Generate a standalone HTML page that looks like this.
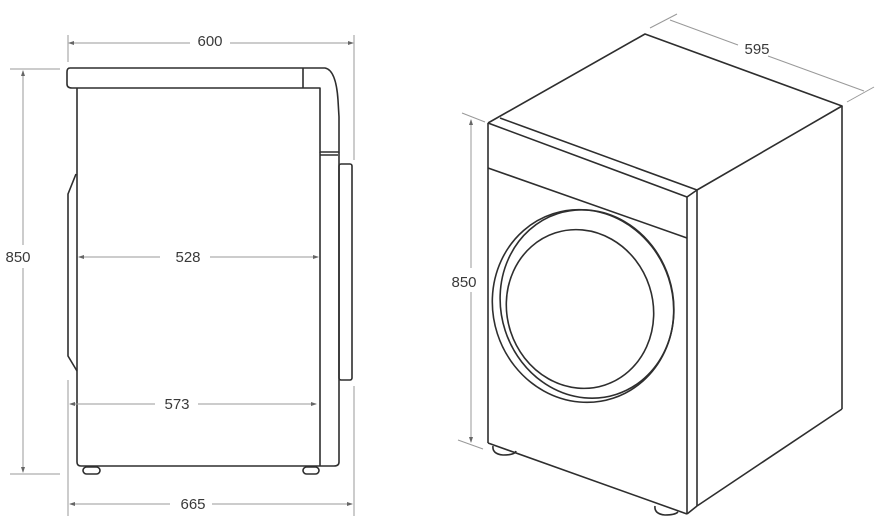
<!DOCTYPE html>
<html><head><style>
html,body{margin:0;padding:0;background:#fff;}
svg{display:block;}
text{font-family:"Liberation Sans",sans-serif;font-size:15px;fill:#3a3a3a;text-anchor:middle;}
.o{fill:none;stroke:#2e2e2e;stroke-width:1.6;stroke-linejoin:round;}
.d{fill:none;stroke:#999;stroke-width:1;}
.a{fill:#666;}
</style></head><body>
<svg width="880" height="524" viewBox="0 0 880 524" xmlns="http://www.w3.org/2000/svg">
<line class="d" x1="68" y1="35" x2="68" y2="62"/>
<line class="d" x1="354" y1="35" x2="354" y2="160"/>
<line class="d" x1="70" y1="43" x2="190" y2="43"/>
<line class="d" x1="230" y1="43" x2="352" y2="43"/>
<path class="a" d="M68,43 l6,-2 v4z M354,43 l-6,-2 v4z"/>
<text x="210" y="46">600</text>
<line class="d" x1="10" y1="69" x2="60" y2="69"/>
<line class="d" x1="10" y1="474" x2="60" y2="474"/>
<line class="d" x1="23" y1="71" x2="23" y2="245"/>
<line class="d" x1="23" y1="268" x2="23" y2="472"/>
<path class="a" d="M23,70 l-2,6 h4z M23,473 l-2,-6 h4z"/>
<text x="18" y="262">850</text>
<path class="o" d="M70,68 H325 Q336,70 338,100 L339,117 V152 H320 V88 H72 Q67,88 67,84 V72 Q67,68 70,68 Z"/>
<line class="o" x1="303" y1="68" x2="303" y2="88"/>
<line class="o" x1="320" y1="155" x2="338" y2="155"/>
<path class="o" d="M77,88 V462 Q77,466 81,466 H334 Q339,466 339,462 V152"/>
<line class="o" x1="320" y1="152" x2="320" y2="466"/>
<path class="o" d="M76,174 L68,194 V356 L77,371"/>
<rect class="o" x="339" y="164" width="13" height="216" rx="2"/>
<rect class="o" x="83" y="467" width="17" height="7" rx="3.5"/>
<rect class="o" x="303" y="467" width="16" height="7" rx="3.5"/>
<line class="d" x1="79" y1="257" x2="160" y2="257"/>
<line class="d" x1="210" y1="257" x2="318" y2="257"/>
<path class="a" d="M78,257 l6,-2 v4z M319,257 l-6,-2 v4z"/>
<text x="188" y="262">528</text>
<line class="d" x1="68" y1="380" x2="68" y2="516"/>
<line class="d" x1="354" y1="386" x2="354" y2="516"/>
<line class="d" x1="70" y1="404" x2="155" y2="404"/>
<line class="d" x1="198" y1="404" x2="316" y2="404"/>
<path class="a" d="M69,404 l6,-2 v4z M317,404 l-6,-2 v4z"/>
<text x="177" y="409">573</text>
<line class="d" x1="70" y1="504" x2="170" y2="504"/>
<line class="d" x1="212" y1="504" x2="352" y2="504"/>
<path class="a" d="M69,504 l6,-2 v4z M353,504 l-6,-2 v4z"/>
<text x="193" y="509">665</text>

<line class="d" x1="650" y1="28" x2="677" y2="14"/>
<line class="d" x1="847" y1="102" x2="874" y2="87"/>
<line class="d" x1="670" y1="20" x2="738" y2="45"/>
<line class="d" x1="768" y1="56" x2="864" y2="91"/>
<text x="757" y="54">595</text>
<line class="d" x1="462" y1="113" x2="485" y2="122"/>
<line class="d" x1="458" y1="440" x2="483" y2="449"/>
<line class="d" x1="471" y1="120" x2="471" y2="268"/>
<line class="d" x1="471" y1="292" x2="471" y2="442"/>
<path class="a" d="M471,119 l-2,6 h4z M471,443 l-2,-6 h4z"/>
<text x="464" y="287">850</text>
<path class="o" d="M488,123 L645,34 L842,106 L697,190 L500,118"/>
<path class="o" d="M488,123 L687,197 L697,190"/>
<line class="o" x1="488" y1="123" x2="488" y2="443"/>
<line class="o" x1="488" y1="443" x2="687" y2="514"/>
<line class="o" x1="687" y1="197" x2="687" y2="514"/>
<line class="o" x1="697" y1="190" x2="697" y2="506"/>
<line class="o" x1="687" y1="514" x2="697" y2="506"/>
<line class="o" x1="842" y1="106" x2="842" y2="409"/>
<line class="o" x1="697" y1="506" x2="842" y2="409"/>
<line class="o" x1="488" y1="168" x2="687" y2="238"/>
<ellipse class="o" cx="583" cy="306" rx="90" ry="97" transform="rotate(-18 583 306)"/>
<ellipse class="o" cx="587" cy="304" rx="86" ry="95" transform="rotate(-18 587 304)"/>
<ellipse class="o" cx="580" cy="309" rx="73" ry="80" transform="rotate(-18 580 309)"/>
<path class="o" d="M493,446 Q492,454 503,455 Q515,455 516,451"/>
<path class="o" d="M655,506 Q654,514 665,515 Q675,515 678,512"/>
</svg>
</body></html>
